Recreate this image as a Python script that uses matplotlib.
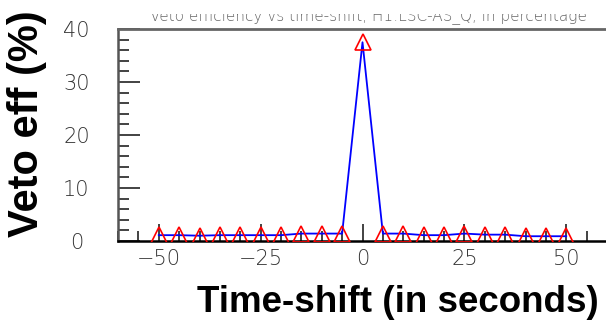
import matplotlib.pyplot as plt
from matplotlib.transforms import Bbox, TransformedBbox
from matplotlib.ticker import MultipleLocator

# time shifts (s) and veto efficiency (%)
timeShift = [-50, -45, -40, -35, -30, -25, -20, -15, -10, -5, 0,
             5, 10, 15, 20, 25, 30, 35, 40, 45, 50]
vetoEff = [1.1, 1.1, 1.0, 1.1, 1.1, 1.1, 1.1, 1.4, 1.4, 1.4, 37.5,
           1.4, 1.4, 1.1, 1.1, 1.4, 1.2, 1.2, 0.9, 0.9, 0.9]

titleText = 'Veto efficiency vs time-shift, H1:LSC-AS_Q, in percentage'

fig = plt.figure(figsize = (6.06, 3.27), dpi = 100)
ax = fig.add_axes([118 / 606, 86 / 327, 489 / 606, 212 / 327])

ax.plot(timeShift, vetoEff, color = '#0000ff', linewidth = 1.3, zorder = 2)
ax.plot(timeShift, vetoEff, linestyle = 'none', marker = '^', markersize = 11,
        markerfacecolor = 'none', markeredgecolor = '#ff0000', markeredgewidth = 1.2, zorder = 3)

ax.set_xlim(-60, 60)
ax.set_ylim(0, 40)

ax.xaxis.set_major_locator(MultipleLocator(25))
ax.xaxis.set_minor_locator(MultipleLocator(5))
ax.yaxis.set_major_locator(MultipleLocator(10))
ax.yaxis.set_minor_locator(MultipleLocator(2))

ax.tick_params(axis = 'both', which = 'both', direction = 'in', top = False, right = False, color = '#222222')
ax.tick_params(axis = 'x', which = 'major', length = 12, width = 1.2, pad = 6)
ax.tick_params(axis = 'x', which = 'minor', length = 7, width = 1.2)
ax.tick_params(axis = 'y', which = 'major', length = 16, width = 1.2, pad = 30)
ax.tick_params(axis = 'y', which = 'minor', length = 8, width = 1.2)

for lab in ax.get_xticklabels() + ax.get_yticklabels():
    lab.set_fontfamily('DejaVu Sans')
    lab.set_fontweight(200)
    lab.set_fontsize(15)
    lab.set_color('#333333')
for lab in ax.get_yticklabels():
    lab.set_horizontalalignment('center')

ax.spines['right'].set_visible(False)
ax.spines['left'].set_color('#555555')
ax.spines['top'].set_color('#666666')
ax.spines['left'].set_linewidth(1.8)
ax.spines['top'].set_linewidth(2)
ax.spines['bottom'].set_color('black')
ax.spines['bottom'].set_linewidth(1.8)

fig.text(27 / 606, 1 - 124 / 327, 'Veto eff (%)', rotation = 90, ha = 'center', va = 'center',
         fontsize = 30, fontweight = 'bold', family = 'Liberation Sans')
fig.text(398 / 606, 1 - 302 / 327, 'Time-shift (in seconds)', ha = 'center', va = 'center',
         fontsize = 26.5, fontweight = 'bold', family = 'Liberation Sans')

# title strip at the top, only its lower edge shows in the original
title = fig.text(368 / 606, 1 - 20 / 327, titleText, ha = 'center', va = 'baseline',
                 fontsize = 11, fontweight = 200, color = '#666666')
title.set_clip_box(TransformedBbox(Bbox([[0, 0], [1, 1 - 14 / 327]]), fig.transFigure))
title.set_clip_on(True)

fig.savefig('out.png', dpi = 100)
plt.close(fig)
